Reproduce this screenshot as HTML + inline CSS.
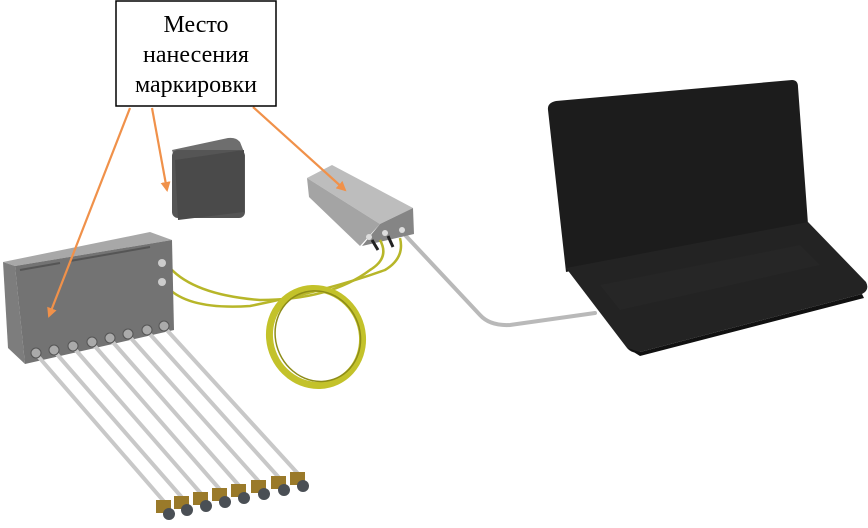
<!DOCTYPE html>
<html><head><meta charset="utf-8"><style>
html,body{margin:0;padding:0;background:#fff;}
svg{display:block;}
</style></head><body>
<svg width="868" height="528" viewBox="0 0 868 528" xmlns="http://www.w3.org/2000/svg">
<defs>
<marker id="ah" markerWidth="10" markerHeight="10" refX="8" refY="5" orient="auto" markerUnits="userSpaceOnUse">
<path d="M0,0 L10,5 L0,10 z" fill="#f0914a"/>
</marker>
</defs>

<!-- laptop -->
<path d="M548,110 Q547,103 556,101 L792,80 Q798,80 798,87 L808,224 L566,272 Z" fill="#1c1c1c"/>
<path d="M566,268 L808,222 L866,282 Q870,290 862,294 L640,352 Q632,354 627,348 Z" fill="#232323"/>
<path d="M627,348 L640,352 L862,294 L864,298 L640,356 Z" fill="#111"/>
<path d="M600,285 L800,245 L820,265 L620,310 Z" fill="#262626"/>

<!-- gray cable to laptop -->
<path d="M406,236 L480,315 Q490,326 510,325 L595,313" fill="none" stroke="#b9b9b9" stroke-width="4" stroke-linecap="round"/>

<!-- small gray box -->
<path d="M172,150 L228,138 Q236,137 240,142 L244,152 L176,163 Z" fill="#6e6e6e"/>
<rect x="172" y="150" width="73" height="68" rx="6" fill="#555"/>
<path d="M175,160 L244,150 L244,212 L178,220 Z" fill="#4a4a4a"/>

<!-- device box -->
<path d="M307,178 L332,165 L413,208 L380,224 Z" fill="#bdbdbd"/>
<path d="M307,178 L380,224 L360,246 L309,197 Z" fill="#a4a4a4"/>
<path d="M380,224 L413,208 L414,234 L362,246 Z" fill="#858585"/>
<circle cx="369" cy="237" r="3" fill="#ddd"/><circle cx="385" cy="233" r="3" fill="#ddd"/><circle cx="402" cy="230" r="3" fill="#ddd"/>

<!-- yellow fibers -->
<path d="M170,268 Q195,295 260,300 Q330,300 370,270 Q390,258 380,240" fill="none" stroke="#b7b629" stroke-width="2.5"/>
<path d="M168,288 Q190,310 250,306 Q330,290 385,270 Q405,258 400,238" fill="none" stroke="#b7b629" stroke-width="2.5"/>
<line x1="160" y1="262" x2="172" y2="272" stroke="#222" stroke-width="3"/>
<line x1="160" y1="282" x2="170" y2="292" stroke="#222" stroke-width="3"/>
<line x1="372" y1="240" x2="378" y2="250" stroke="#222" stroke-width="3"/>
<line x1="388" y1="236" x2="393" y2="247" stroke="#222" stroke-width="3"/>
<ellipse cx="316" cy="337" rx="46" ry="49" transform="rotate(-25 316 337)" fill="none" stroke="#c3c22a" stroke-width="7"/>
<ellipse cx="318" cy="337" rx="42" ry="46" transform="rotate(-25 316 337)" fill="none" stroke="#8d8c18" stroke-width="1.5"/>

<!-- big left box -->
<path d="M3,262 L150,232 L172,240 L15,266 Z" fill="#a8a8a8"/>
<path d="M3,262 L15,266 L25,364 L8,348 Z" fill="#7d7d7d"/>
<path d="M15,266 L172,240 L174,330 L25,364 Z" fill="#737373"/>
<path d="M20,270 L60,263 M70,261 L150,247" stroke="#555" stroke-width="2"/>
<circle cx="162" cy="263" r="4" fill="#ccc"/><circle cx="162" cy="282" r="4" fill="#ccc"/>

<!-- 8 cables -->
<g stroke="#c8c8c8" stroke-width="4" stroke-linecap="round">
<line x1="37" y1="355" x2="167" y2="505"/>
<line x1="55" y1="352" x2="185" y2="501"/>
<line x1="74" y1="348" x2="204" y2="497"/>
<line x1="93" y1="344" x2="223" y2="493"/>
<line x1="111" y1="340" x2="242" y2="489"/>
<line x1="129" y1="336" x2="262" y2="485"/>
<line x1="148" y1="332" x2="282" y2="481"/>
<line x1="165" y1="328" x2="301" y2="477"/>
</g>
<g fill="#aaa" stroke="#555" stroke-width="1">
<circle cx="36" cy="353" r="5"/><circle cx="54" cy="350" r="5"/><circle cx="73" cy="346" r="5"/><circle cx="92" cy="342" r="5"/>
<circle cx="110" cy="338" r="5"/><circle cx="128" cy="334" r="5"/><circle cx="147" cy="330" r="5"/><circle cx="164" cy="326" r="5"/>
</g>
<!-- sensors -->
<g>
<g transform="translate(162,507)"><rect x="-6" y="-7" width="15" height="13" fill="#9a7a2a"/><circle cx="7" cy="7" r="6" fill="#4a4f55"/></g>
<g transform="translate(180,503)"><rect x="-6" y="-7" width="15" height="13" fill="#9a7a2a"/><circle cx="7" cy="7" r="6" fill="#4a4f55"/></g>
<g transform="translate(199,499)"><rect x="-6" y="-7" width="15" height="13" fill="#9a7a2a"/><circle cx="7" cy="7" r="6" fill="#4a4f55"/></g>
<g transform="translate(218,495)"><rect x="-6" y="-7" width="15" height="13" fill="#9a7a2a"/><circle cx="7" cy="7" r="6" fill="#4a4f55"/></g>
<g transform="translate(237,491)"><rect x="-6" y="-7" width="15" height="13" fill="#9a7a2a"/><circle cx="7" cy="7" r="6" fill="#4a4f55"/></g>
<g transform="translate(257,487)"><rect x="-6" y="-7" width="15" height="13" fill="#9a7a2a"/><circle cx="7" cy="7" r="6" fill="#4a4f55"/></g>
<g transform="translate(277,483)"><rect x="-6" y="-7" width="15" height="13" fill="#9a7a2a"/><circle cx="7" cy="7" r="6" fill="#4a4f55"/></g>
<g transform="translate(296,479)"><rect x="-6" y="-7" width="15" height="13" fill="#9a7a2a"/><circle cx="7" cy="7" r="6" fill="#4a4f55"/></g>
</g>

<!-- arrows -->
<g stroke="#f0914a" stroke-width="2.2" fill="none">
<line x1="130" y1="108" x2="49" y2="316" marker-end="url(#ah)"/>
<line x1="152" y1="108" x2="167" y2="190" marker-end="url(#ah)"/>
<line x1="253" y1="107" x2="345" y2="190" marker-end="url(#ah)"/>
</g>

<!-- label -->
<rect x="116" y="1" width="160" height="105" fill="#fff" stroke="#000" stroke-width="1.5"/>
<g font-family="'Liberation Serif', serif" font-size="24" fill="#000" text-anchor="middle">
<text x="196" y="32">Место</text>
<text x="196" y="62">нанесения</text>
<text x="196" y="92">маркировки</text>
</g>
</svg>
</body></html>
